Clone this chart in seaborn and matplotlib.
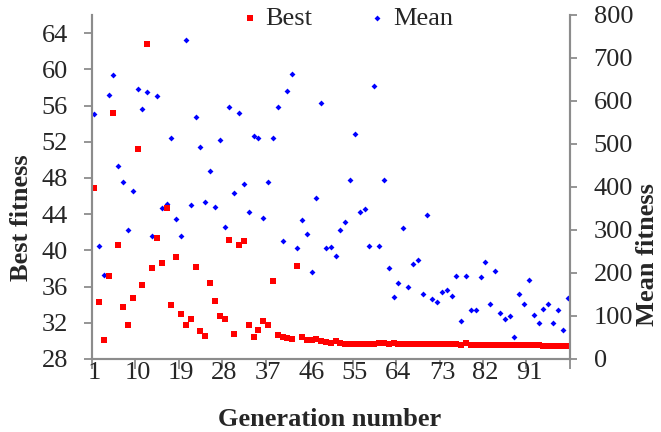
import matplotlib
matplotlib.use("Agg")
import matplotlib.pyplot as plt
import seaborn as sns
import pandas as pd

generation = list(range(1, 100))

best_fitness = [
    46.9, 34.3, 30.1, 37.2, 55.2, 40.6, 33.7, 31.8, 34.7, 51.2,
    36.2, 62.8, 38.0, 41.4, 38.6, 44.7, 34.0, 39.3, 33.0, 31.7,
    32.45, 38.2, 31.1, 30.5, 36.4, 34.4, 32.8, 32.45, 41.1, 30.8,
    40.6, 41.0, 31.7, 30.46, 31.2, 32.2, 31.8, 36.65, 30.6, 30.46,
    30.35, 30.24, 38.3, 30.46, 30.13, 30.13, 30.24, 30.02, 29.9, 29.8,
    30.0, 29.8, 29.7, 29.7, 29.7, 29.7, 29.7, 29.7, 29.7, 29.8,
    29.8, 29.7, 29.8, 29.7, 29.7, 29.7, 29.7, 29.7, 29.7, 29.7,
    29.7, 29.7, 29.7, 29.7, 29.7, 29.7, 29.55, 29.75, 29.6, 29.6,
    29.6, 29.6, 29.6, 29.6, 29.6, 29.6, 29.6, 29.6, 29.6, 29.6,
    29.6, 29.6, 29.6, 29.45, 29.45, 29.45, 29.45, 29.45, 29.45,
]

mean_fitness = [
    569, 262, 195, 615, 660, 448, 412, 300, 391, 629,
    582, 620, 285, 612, 352, 360, 515, 326, 287, 743,
    359, 563, 494, 365, 437, 353, 510, 307, 585, 387,
    571, 407, 343, 518, 513, 329, 411, 515, 585, 275,
    623, 662, 259, 323, 291, 203, 375, 595, 259, 260,
    239, 300, 318, 416, 523, 343, 348, 262, 636, 262,
    416, 211, 144, 176, 304, 167, 221, 231, 152, 336,
    140, 132, 155, 160, 147, 193, 88, 193, 115, 115,
    190, 225, 129, 204, 106, 94, 99, 50, 150, 128,
    183, 102, 84, 117, 129, 83, 115, 67, 142,
]

x_tick_labels = ["1", "10", "19", "28", "37", "46", "55", "64", "73", "82", "91"]
best_ticks = [28, 32, 36, 40, 44, 48, 52, 56, 60, 64]
mean_ticks = [0, 100, 200, 300, 400, 500, 600, 700, 800]

df = pd.DataFrame({"generation": generation, "best": best_fitness, "mean": mean_fitness})

sns.set_style("white")
plt.rcParams["font.family"] = ["Liberation Serif", "DejaVu Serif"]

FS = 19
AXIS_GREY = "#8c8c8c"

fig = plt.figure(figsize=(6.61, 4.32), dpi=100)
ax = fig.add_axes([0.1387, 0.169, 0.8623 - 0.1387, 0.9653 - 0.169])
ax2 = ax.twinx()

sns.scatterplot(data=df, x="generation", y="best", ax=ax, marker="s", s=21,
                color="#ff0000", linewidth=0, label="Best", legend=False)
sns.scatterplot(data=df, x="generation", y="mean", ax=ax2, marker="D", s=9,
                color="#0000ff", linewidth=0, label="Mean", legend=False)

# draw the Best series above the Mean series
ax.set_zorder(ax2.get_zorder() + 1)
ax.patch.set_visible(False)

n = len(generation)
ax.set_xlim(0.5, n + 0.5)
ax.set_ylim(28, 66)
ax2.set_ylim(0, 800)

# tick marks between categories, labels on categories
ax.set_xticks([0.5 + 9 * k for k in range(12)])
ax.set_xticklabels([])
ax.set_xticks([int(t) for t in x_tick_labels], minor=True)
ax.set_xticklabels(x_tick_labels, minor=True)
ax.tick_params(axis="x", which="minor", length=0, pad=2, labelsize=FS)
ax.tick_params(axis="x", which="major", length=7, width=1.3, color=AXIS_GREY,
               direction="out", bottom=True)

ax.set_yticks(best_ticks)
ax.set_yticklabels([str(v) for v in best_ticks])
ax.tick_params(axis="y", length=6, width=1.3, color=AXIS_GREY, direction="out",
               left=True, pad=11, labelsize=FS)

ax2.set_yticks(mean_ticks)
ax2.set_yticklabels([str(v) for v in mean_ticks])
ax2.tick_params(axis="y", length=5, width=1.3, color=AXIS_GREY, direction="out",
                right=True, pad=12, labelsize=FS)

for a in (ax, ax2):
    a.set_xlabel("")
    a.set_ylabel("")
    a.grid(False)
    for side in ("left", "right", "bottom"):
        a.spines[side].set_visible(True)
        a.spines[side].set_color(AXIS_GREY)
        a.spines[side].set_linewidth(1.5)
    a.spines["top"].set_visible(False)

fig.text(330 / 661, 1 - 419 / 432, "Generation number", ha="center", va="center",
         fontsize=FS, fontweight="bold")
fig.text(22 / 661, 1 - 218 / 432, "Best fitness", ha="center", va="center",
         rotation=90, fontsize=FS, fontweight="bold")
fig.text(648 / 661, 1 - 255 / 432, "Mean fitness", ha="center", va="center",
         rotation=90, fontsize=FS, fontweight="bold")

h1, l1 = ax.get_legend_handles_labels()
h2, l2 = ax2.get_legend_handles_labels()
fig.legend(h1 + h2, l1 + l2, loc="center", bbox_to_anchor=(346 / 661, 1 - 18 / 432),
           ncol=2, frameon=False, fontsize=FS, handletextpad=0.2,
           columnspacing=2.05, markerscale=1.0, borderpad=0, handlelength=0.8)

fig.savefig("out.png", dpi=100)
